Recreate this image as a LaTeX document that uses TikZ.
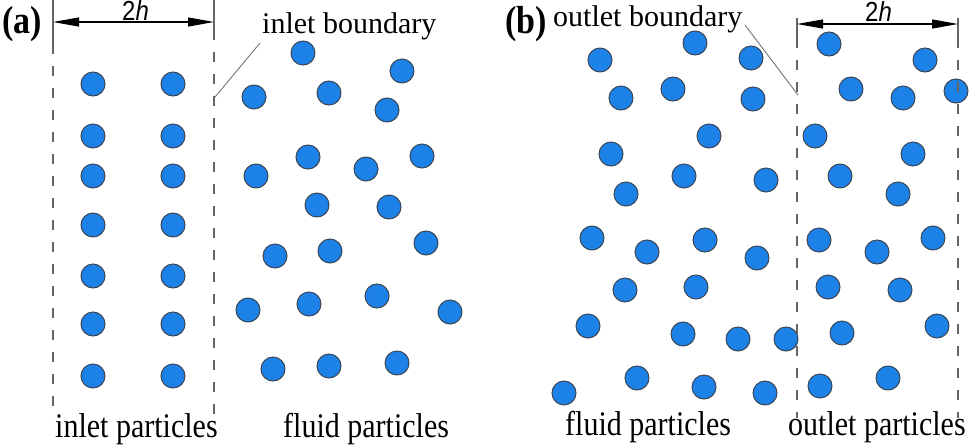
\documentclass[tikz,border=0pt]{standalone}
\usepackage{fontspec}
\setmainfont{Liberation Serif}
\newfontfamily\sansf{Liberation Sans}
\usetikzlibrary{arrows.meta}
\definecolor{pblue}{RGB}{28,130,232}
\definecolor{pedge}{RGB}{60,70,85}
\newcommand{\tallify}[1]{\scalebox{1}[1.15]{#1}}
\begin{document}
\begin{tikzpicture}[x=1pt,y=-1pt,
  particle/.style={circle,draw=pedge,fill=pblue,line width=1pt,minimum size=24pt,inner sep=0pt},
  bound/.style={draw=black!60,line width=1.3pt,dash pattern=on 10pt off 12pt},
  extline/.style={draw=black!60,line width=1.3pt},
  leader/.style={draw=black!55,line width=0.9pt},
  dimarrow/.style={line width=1.1pt,{Triangle[length=26pt,width=9pt]}-{Triangle[length=26pt,width=9pt]}},
  lab/.style={font=\fontsize{30}{30}\selectfont,anchor=base west,inner sep=0pt},
  panel/.style={font=\fontsize{34}{34}\selectfont\bfseries,anchor=base west,inner sep=0pt},
  dimlab/.style={font=\sansf\fontsize{24}{24}\selectfont,anchor=base west,inner sep=0pt}]
\useasboundingbox (0,0) rectangle (969,445);

% ---------- panel (a) ----------
\node[panel] (pa) at (2,33) {\tallify{(a)}};
\node[dimlab] (ha) at (122,20) {\tallify{2\textit{h}}};
\node[lab] (ib) at (262,33) {inlet boundary};
\node[lab] (ip) at (55,437) {\tallify{inlet particles}};
\node[lab] (fa) at (283,437) {\tallify{fluid particles}};

% inlet particles
\foreach \y [count=\i] in {84,136,176,225,276,324,376}{
  \node[particle] (inL\i) at (93,\y) {};
  \node[particle] (inR\i) at (173,\y) {};
}
% fluid particles (a)
\foreach \x/\y [count=\i] in {303/53,402/71,254/97,329/93,387/110,
  256/176,308/157,366/169,422/156,317/205,389/207,
  275/256,330/251,426/243,248/310,309/304,377/296,450/312,
  273/369,329/366,397/363}{
  \node[particle] (fpa\i) at (\x,\y) {};
}

\coordinate (aLt) at (53,0);  \coordinate (aLm) at (53,44);  \coordinate (aLb) at (53,418);
\coordinate (aRt) at (214,0); \coordinate (aRm) at (214,30); \coordinate (aRb) at (214,418);
\coordinate (aAl) at (53,22); \coordinate (aAr) at (214,22);
\draw[extline] (aLt) -- (aLm);
\draw[bound] (aLm) -- (aLb);
\draw[extline] (aRt) -- (aRm);
\draw[bound] (aRm) -- (aRb);
\draw[dimarrow] (aAl) -- (aAr);
\coordinate (aLe1) at (215,97); \coordinate (aLe2) at (260,43);
\draw[leader] (aLe1) -- (aLe2);

% ---------- panel (b) ----------
\node[panel] (pb) at (505,33) {\tallify{(b)}};
\node[dimlab] (hb) at (865,21) {\tallify{2\textit{h}}};
\node[lab] (ob) at (553,26) {outlet boundary};
\node[lab] (fb) at (565,435) {\tallify{fluid particles}};
\node[lab] (op) at (788,435) {\tallify{outlet particles}};

% fluid particles (b)
\foreach \x/\y [count=\i] in {600/60,695/43,751/58,621/98,673/89,753/99,
  709/136,611/154,684/176,766/180,626/194,
  592/238,647/252,705/240,757/258,625/290,696/287,
  588/326,683/334,738/339,786/339,
  564/393,637/378,704/387,765/393}{
  \node[particle] (fpb\i) at (\x,\y) {};
}
% outlet particles
\foreach \x/\y [count=\i] in {829/44,925/60,851/89,903/98,956/91,
  815/136,913/154,840/176,898/194,
  819/240,877/252,933/238,828/287,900/290,
  842/333,937/326,820/386,888/378}{
  \node[particle] (op\i) at (\x,\y) {};
}

\coordinate (bLt) at (797,18);  \coordinate (bLm) at (797,38);  \coordinate (bLb) at (797,418);
\coordinate (bRt) at (958,18);  \coordinate (bRm) at (958,38);  \coordinate (bRb) at (958,418);
\coordinate (bAl) at (797,24);  \coordinate (bAr) at (958,24);
\draw[extline] (bLt) -- (bLm);
\draw[bound] (bLm) -- (bLb);
\draw[extline] (bRt) -- (bRm);
\draw[bound] (bRm) -- (bRb);
\draw[dimarrow] (bAl) -- (bAr);
\coordinate (bLe1) at (745,25); \coordinate (bLe2) at (798,95);
\draw[leader] (bLe1) -- (bLe2);
\end{tikzpicture}
\end{document}
